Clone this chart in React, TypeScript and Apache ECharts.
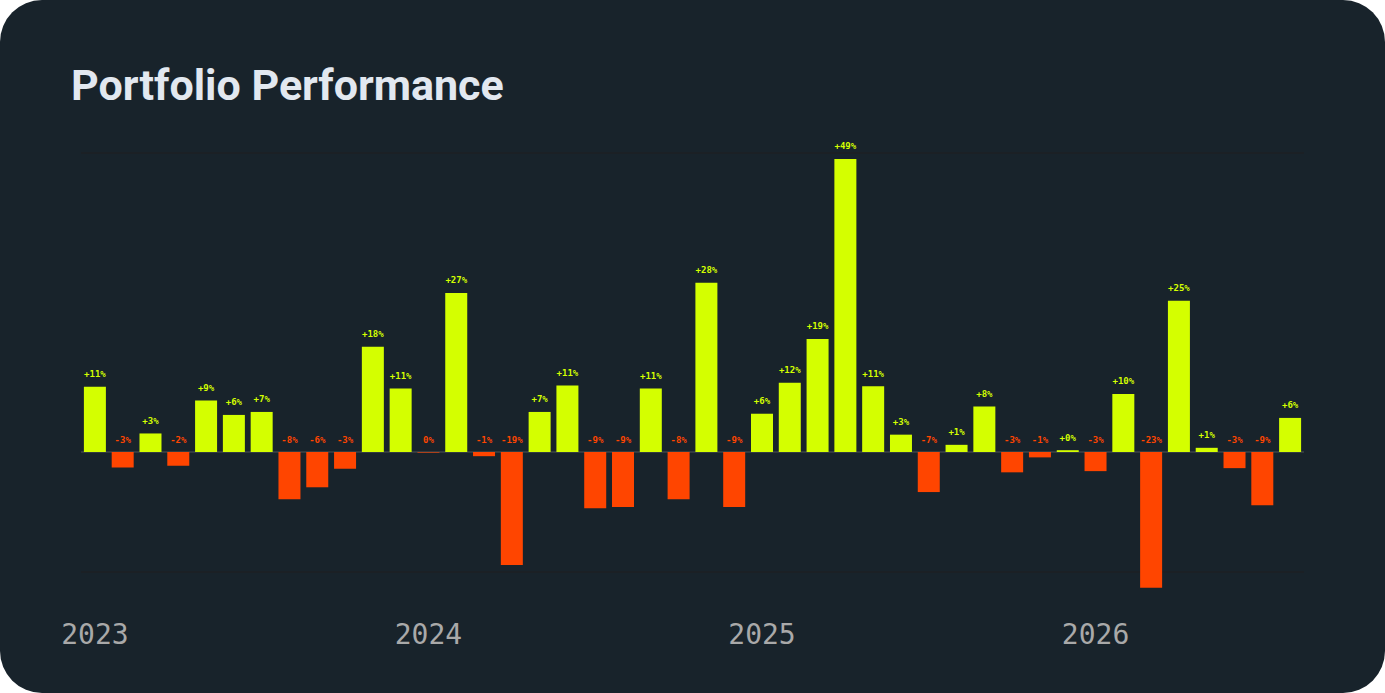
import { useEffect, useRef } from "react";
import * as echarts from "echarts";

const MONTHS = [
  "2023-01", "2023-02", "2023-03", "2023-04", "2023-05", "2023-06",
  "2023-07", "2023-08", "2023-09", "2023-10", "2023-11", "2023-12",
  "2024-01", "2024-02", "2024-03", "2024-04", "2024-05", "2024-06",
  "2024-07", "2024-08", "2024-09", "2024-10", "2024-11", "2024-12",
  "2025-01", "2025-02", "2025-03", "2025-04", "2025-05", "2025-06",
  "2025-07", "2025-08", "2025-09", "2025-10", "2025-11", "2025-12",
  "2026-01", "2026-02", "2026-03", "2026-04", "2026-05", "2026-06",
  "2026-07", "2026-08",
];

// monthly return, %
const RETURNS = [
  10.9, -2.6, 3.1, -2.3, 8.6, 6.2, 6.7, -7.9, -5.9, -2.8, 17.6, 10.6,
  -0.1, 26.6, -0.7, -18.9, 6.7, 11.1, -9.4, -9.2, 10.6, -7.9, 28.3, -9.2,
  6.4, 11.6, 18.9, 49.0, 11.0, 2.9, -6.7, 1.2, 7.6, -3.4, -0.9, 0.3,
  -3.2, 9.7, -22.7, 25.3, 0.7, -2.7, -8.9, 5.7,
];

const UP = "#d4ff00";
const DOWN = "#ff4500";
const BG = "#18232b";

// split lines of the guide axis at -20 ... 50, step 10: faint at the ends, grey at zero
const GUIDE_COLORS = [
  "#1c2125", "transparent", "#3d4449", "transparent",
  "transparent", "transparent", "transparent", "#1c2125",
];

export default function App() {
  const chartRef = useRef<HTMLDivElement>(null);

  useEffect(() => {
    if (!chartRef.current) return;
    const chart = echarts.init(chartRef.current, undefined, { renderer: "svg" });

    const fmt = (v: number) => {
      const r = Math.round(v);
      return v > 0 ? `+${r}%` : `${r === 0 ? 0 : r}%`;
    };

    chart.setOption({
      animation: false,
      backgroundColor: "transparent",
      title: {
        text: "Portfolio Performance",
        left: 66,
        top: 58,
        textStyle: {
          color: "#e2e8f0",
          fontSize: 43,
          fontWeight: "bold",
          fontFamily: "Roboto",
        },
      },
      grid: [
        { left: 81, right: 81, top: 153, bottom: 91.5 },
        // same scale (5.98 px per %), cut to -20 .. 50 for the guide lines
        { left: 81, right: 81, top: 153, bottom: 693 - (153 + 70 * 5.98) },
      ],
      xAxis: [
        {
          type: "category",
          data: MONTHS,
          axisLine: { show: false },
          axisTick: { show: false },
          axisLabel: {
            interval: (i: number) => i % 12 === 0,
            formatter: (v: string) => v.slice(0, 4),
            color: "#a9a9a9",
            fontSize: 28,
            fontFamily: "DejaVu Sans Mono",
            margin: 19,
          },
        },
        {
          gridIndex: 1,
          type: "category",
          data: MONTHS,
          show: false,
        },
      ],
      yAxis: [
        {
          type: "value",
          min: -25,
          max: 50,
          show: false,
          splitLine: { show: false },
        },
        {
          gridIndex: 1,
          type: "value",
          min: -20,
          max: 50,
          interval: 10,
          axisLine: { show: false },
          axisTick: { show: false },
          axisLabel: { show: false },
          splitLine: {
            show: true,
            lineStyle: { color: GUIDE_COLORS, width: 1.5 },
          },
        },
      ],
      series: [
        {
          type: "line",
          xAxisIndex: 1,
          yAxisIndex: 1,
          data: [],
          silent: true,
        },
        {
          type: "bar",
          z: 2,
          barWidth: 22,
          data: RETURNS.map((v) => ({
            value: v,
            itemStyle: { color: v >= 0 ? UP : DOWN },
            label: { color: v >= 0 ? UP : DOWN },
          })),
          label: {
            show: true,
            position: "top",
            distance: 8,
            fontSize: 9,
            fontWeight: "bold",
            fontFamily: "DejaVu Sans Mono",
            formatter: (p: any) => fmt(p.value),
          },
        },
      ],
    });

    return () => chart.dispose();
  }, []);

  return (
    <div
      ref={chartRef}
      style={{
        position: "fixed",
        left: 0,
        top: 0,
        width: 1385,
        height: 693,
        borderRadius: 42,
        background: BG,
        overflow: "hidden",
      }}
    />
  );
}
